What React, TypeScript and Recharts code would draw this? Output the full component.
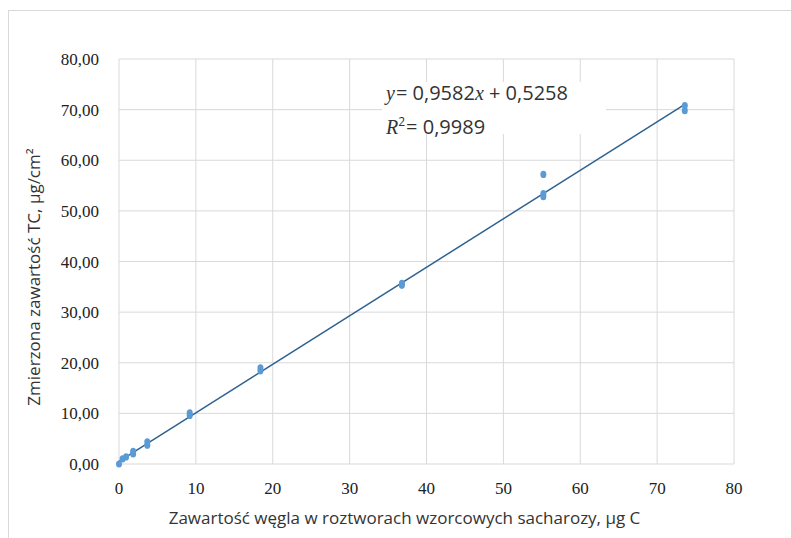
import { CartesianGrid, Customized, Scatter, ScatterChart, XAxis, YAxis } from "recharts";

// sucrose standard solutions: carbon content (µg C) vs measured TC (µg/cm²)
const xValues = [0, 0.46, 0.92, 1.84, 1.84, 3.68, 3.68, 9.2, 9.2, 18.4, 18.4, 36.8, 36.8, 55.2, 55.2, 55.2, 73.6, 73.6];
const yValues = [0.0, 1.0, 1.4, 2.0, 2.5, 3.7, 4.4, 9.6, 10.1, 18.4, 19.0, 35.3, 35.7, 52.8, 53.4, 57.2, 69.8, 70.8];

const slope = 0.9582;
const intercept = 0.5258;
const trendX = [0, 73.6];

const xTicks = [0, 10, 20, 30, 40, 50, 60, 70, 80];
const yTicks = [0, 10, 20, 30, 40, 50, 60, 70, 80];

const points = xValues.map((x, i) => ({ x, y: yValues[i] }));
const trend = trendX.map((x) => ({ x, y: slope * x + intercept }));

const GRID = "#d9d9d9";
const TICK_FONT = "'Liberation Serif', serif";
const TITLE_FONT = "'Open Sans', sans-serif";

const fmtY = (v: number) => v.toFixed(2).replace(".", ",");

const Dot = (props: any) => (
  <ellipse cx={props.cx} cy={props.cy} rx={3} ry={3.6} fill="#5b9bd5" />
);

const YTitle = () => (
  <text
    x={33}
    y={277}
    transform="rotate(-90 33 277)"
    textAnchor="middle"
    dominantBaseline="central"
    fontSize={17}
    fill="#333"
    fontFamily={TITLE_FONT}
  >
    Zmierzona zawartość TC, µg/cm²
  </text>
);

function Equation() {
  return (
    <g>
      <rect x={382} y={82} width={224} height={52} fill="#fff" />
      <text x={386} y={100} fontSize={20} fill="#333" fontFamily={TITLE_FONT}>
        <tspan fontFamily={TICK_FONT} fontStyle="italic">y</tspan>
        <tspan dx={1}>= 0,9582</tspan>
        <tspan fontFamily={TICK_FONT} fontStyle="italic">x</tspan>
        <tspan> + 0,5258</tspan>
      </text>
      <text x={386} y={134} fontSize={20} fill="#333" fontFamily={TITLE_FONT}>
        <tspan fontFamily={TICK_FONT} fontStyle="italic">R</tspan>
        <tspan fontSize={12} dy={-8}>2</tspan>
        <tspan dy={8} dx={1}>= 0,9989</tspan>
      </text>
    </g>
  );
}

export default function App() {
  return (
    <div style={{ position: "absolute", left: 0, top: 0, width: 791, height: 538, background: "#fff" }}>
      <div
        style={{
          position: "absolute",
          left: 8,
          top: 10,
          width: 800,
          height: 540,
          borderLeft: `1px solid ${GRID}`,
          borderTop: `1px solid ${GRID}`,
        }}
      />
      <ScatterChart
        width={791}
        height={538}
        margin={{ top: 59, right: 57, left: 0, bottom: 0 }}
        style={{ position: "absolute", left: 0, top: 0 }}
      >
        <CartesianGrid stroke={GRID} />
        <XAxis
          type="number"
          dataKey="x"
          domain={[0, 80]}
          ticks={xTicks}
          height={74}
          axisLine={false}
          tickLine={false}
          tick={{ fontSize: 17, fill: "#222", fontFamily: TICK_FONT }}
          tickMargin={12}
          label={{
            value: "Zawartość węgla w roztworach wzorcowych sacharozy, µg C",
            position: "insideBottom",
            offset: 14,
            dx: -22,
            fontSize: 17,
            fill: "#333",
            fontFamily: TITLE_FONT,
          }}
        />
        <YAxis
          type="number"
          dataKey="y"
          domain={[0, 80]}
          ticks={yTicks}
          width={119}
          axisLine={false}
          tickLine={false}
          tickFormatter={fmtY}
          tick={{ fontSize: 17, fill: "#222", fontFamily: TICK_FONT }}
          tickMargin={14}
          label={<YTitle />}
        />
        <Scatter data={trend} line={{ stroke: "#2e6190", strokeWidth: 1.5 }} shape={() => <g />} isAnimationActive={false} />
        <Scatter data={points} shape={Dot} isAnimationActive={false} />
        <Customized component={Equation} />
      </ScatterChart>
    </div>
  );
}
